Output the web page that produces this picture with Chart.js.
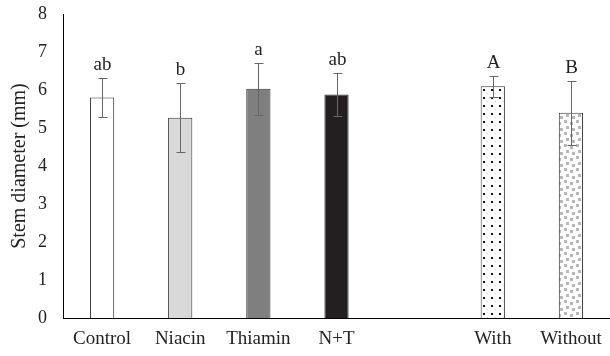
<!DOCTYPE html>
<html>
<head>
<meta charset="utf-8">
<script src="https://cdn.jsdelivr.net/npm/chart.js@4"></script>
<style>
  html, body { margin: 0; padding: 0; background: #fff; }
  #wrap { width: 610px; height: 356px; }
</style>
</head>
<body>
<div id="wrap"><canvas id="grafica" width="610" height="356"></canvas></div>
<script>
const categorias = ["Control", "Niacin", "Thiamin", "N+T", "", "With", "Without"];
const diametro = [5.80, 5.27, 6.03, 5.88, null, 6.10, 5.40];
const errores = [0.52, 0.91, 0.69, 0.56, null, 0.28, 0.85];
const letras = ["ab", "b", "a", "ab", "", "A", "B"];
const ticksY = [0, 1, 2, 3, 4, 5, 6, 7, 8];

const fuente = "'Liberation Serif', 'Times New Roman', serif";

// patrones de relleno para With / Without
function patronPuntos() {
  const c = document.createElement("canvas");
  c.width = 8; c.height = 8;
  const g = c.getContext("2d");
  g.fillStyle = "#fff"; g.fillRect(0, 0, 8, 8);
  g.fillStyle = "#111"; g.fillRect(3, 1, 2, 2);
  g.fillStyle = "#c8c8c8"; g.fillRect(7, 5, 1, 1);
  return g.createPattern(c, "repeat");
}

function patronCuadros() {
  const c = document.createElement("canvas");
  c.width = 12; c.height = 12;
  const g = c.getContext("2d");
  g.fillStyle = "#fff"; g.fillRect(0, 0, 12, 12);
  g.fillStyle = "#b8b8b8";
  g.fillRect(0, 0, 3, 3);
  g.fillRect(6, 2, 3, 3);
  g.fillRect(2, 6, 3, 3);
  g.fillRect(8, 8, 3, 3);
  return g.createPattern(c, "repeat");
}

const colores = ["#ffffff", "#d9d9d9", "#7f7f7f", "#231f20", "#ffffff", patronPuntos(), patronCuadros()];

const erroresPlugin = {
  id: "errores",
  afterDatasetsDraw(chart) {
    const ctx = chart.ctx;
    const meta = chart.getDatasetMeta(0);
    const y = chart.scales.y;
    ctx.save();
    meta.data.forEach((bar, i) => {
      if (diametro[i] == null) return;
      const x = Math.round(bar.x) + 0.5;
      const top = Math.round(y.getPixelForValue(diametro[i] + errores[i])) + 0.5;
      const bot = Math.round(y.getPixelForValue(diametro[i] - errores[i])) + 0.5;
      ctx.strokeStyle = "#666";
      ctx.lineWidth = 1;
      ctx.beginPath();
      ctx.moveTo(x, top); ctx.lineTo(x, bot);
      ctx.moveTo(x - 4, top); ctx.lineTo(x + 5, top);
      ctx.moveTo(x - 4, bot); ctx.lineTo(x + 5, bot);
      ctx.stroke();
      ctx.fillStyle = "#222";
      ctx.font = "19px " + fuente;
      ctx.textAlign = "center";
      ctx.textBaseline = "bottom";
      ctx.fillText(letras[i], x, top - 4);
    });
    ctx.restore();
  }
};

new Chart(document.getElementById("grafica"), {
  type: "bar",
  data: {
    labels: categorias,
    datasets: [{
      data: diametro,
      backgroundColor: colores,
      borderColor: "#333",
      borderWidth: 1,
      categoryPercentage: 1,
      barPercentage: 0.31
    }]
  },
  options: {
    responsive: false,
    animation: false,
    layout: { padding: { top: 0, right: 0, left: 6, bottom: 0 } },
    plugins: { legend: { display: false }, tooltip: { enabled: false } },
    scales: {
      x: {
        grid: { display: false },
        border: { display: true, color: "#000", width: 1 },
        ticks: { color: "#222", font: { family: fuente, size: 19 }, padding: 2, maxRotation: 0 },
        afterFit(s) { s.height = 38; }
      },
      y: {
        min: 0,
        max: 8,
        afterBuildTicks(s) { s.ticks = ticksY.map(v => ({ value: v })); },
        grid: { display: false },
        border: { display: true, color: "#000", width: 1 },
        ticks: { color: "#222", font: { family: fuente, size: 18 }, padding: 8 },
        title: { display: true, text: "Stem diameter (mm)", color: "#222", font: { family: fuente, size: 20 }, padding: 2 },
        afterFit(s) { s.width = 57; s.paddingTop = 14; }
      }
    }
  },
  plugins: [erroresPlugin]
});
</script>
</body>
</html>
